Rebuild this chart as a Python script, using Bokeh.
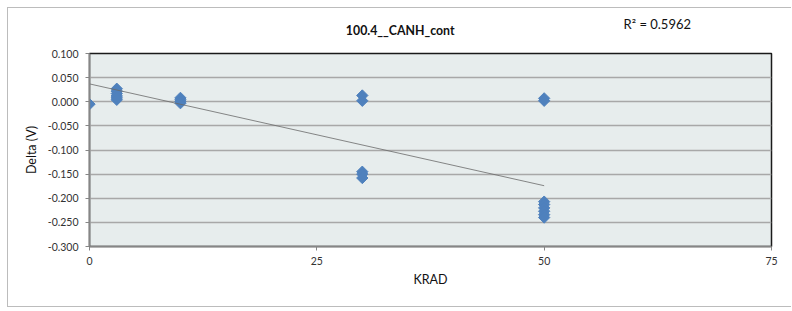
from bokeh.plotting import figure
from bokeh.layouts import column
from bokeh.models import Range1d, FixedTicker, NumeralTickFormatter, Label, ColumnDataSource
from bokeh.embed import file_html
from bokeh.resources import INLINE
import numpy as np

# ---- data ----
krad = [0,
        3, 3, 3, 3, 3, 3,
        10, 10, 10, 10,
        30, 30, 30, 30, 30,
        50, 50, 50, 50, 50, 50, 50, 50]
delta = [-0.005,
         0.027, 0.022, 0.017, 0.012, 0.008, 0.004,
         0.008, 0.004, 0.000, -0.003,
         0.013, 0.002, -0.145, -0.150, -0.158,
         0.007, 0.002, -0.207, -0.213, -0.220, -0.227, -0.234, -0.240]
trend_x = [0, 50]
trend_y = [0.037, -0.174]
r_squared = "0.5962"
title_text = "100.4__CANH_cont"
x_ticks = [0, 25, 50, 75]
y_ticks = [-0.30, -0.25, -0.20, -0.15, -0.10, -0.05, 0.0, 0.05, 0.10]

FONT = "Lato"
BORDER = "1px solid #bcbcbc"

# ---- header strip holding the title and the R² text ----
# (its frame is aligned with the chart frame by the column layout, so its
#  x range is expressed in page pixels of that frame: 89 .. 771)
HDR_H = 40
hdr = figure(width=784, height=HDR_H, output_backend="svg", toolbar_location=None,
             x_range=Range1d(88.7, 771), y_range=Range1d(0, HDR_H),
             x_axis_location=None, y_axis_location=None,
             min_border_left=0, min_border_right=0, min_border_top=0, min_border_bottom=0,
             margin=(7, 0, 0, 7))
hdr.styles = {"border-top": BORDER, "border-left": BORDER}
hdr.grid.visible = False
hdr.outline_line_color = None
hdr.background_fill_color = "white"
hdr.border_fill_color = "white"
hdr.add_layout(Label(x=399.5, y=18, text=title_text, text_font=FONT,
                     text_font_size="12.3px", text_font_style="bold",
                     text_align="center", text_baseline="middle", text_color="#111111"))
hdr.add_layout(Label(x=623, y=24.5, text="R\u00b2 = " + r_squared, text_font=FONT,
                     text_font_size="13px", text_align="left", text_baseline="middle",
                     text_color="#111111"))

# ---- main chart ----
p = figure(width=784, height=260, output_backend="svg", toolbar_location=None,
           x_range=Range1d(0, 75), y_range=Range1d(-0.3, 0.1),
           min_border_left=81, min_border_right=21, min_border_top=6, min_border_bottom=61,
           margin=(0, 0, 0, 7))
p.styles = {"border-left": BORDER, "border-bottom": BORDER}

p.background_fill_color = "#e7eded"
p.border_fill_color = "white"
p.outline_line_color = "#1a1a1a"
p.outline_line_width = 1.5

p.xgrid.visible = False
p.ygrid.grid_line_color = "#a8a8a8"
p.ygrid.grid_line_width = 1.5

p.xaxis.ticker = FixedTicker(ticks=x_ticks)
p.yaxis.ticker = FixedTicker(ticks=y_ticks)
p.yaxis.formatter = NumeralTickFormatter(format="0.000")
p.xaxis.minor_tick_line_color = None
p.yaxis.minor_tick_line_color = None
for ax in (p.xaxis, p.yaxis):
    ax.axis_line_color = "#868686"
    ax.axis_line_width = 1.5
    ax.major_tick_line_color = "#868686"
    ax.major_tick_in = 0
    ax.major_tick_out = 4
    ax.major_label_text_font = FONT
    ax.major_label_text_font_size = "10.5px"
    ax.major_label_text_color = "#333333"
    ax.axis_label_text_font = FONT
    ax.axis_label_text_font_size = "12.5px"
    ax.axis_label_text_font_style = "normal"
    ax.axis_label_text_color = "#111111"
p.xaxis.major_label_standoff = 6
p.yaxis.major_label_standoff = 7
p.xaxis.axis_label = "KRAD"
p.yaxis.axis_label = "Delta (V)"
p.xaxis.axis_label_standoff = 4
p.yaxis.axis_label_standoff = 6

src = ColumnDataSource(dict(x=krad, y=delta))
p.scatter("x", "y", source=src, marker="square", angle=np.pi / 4, size=8,
          fill_color="#4f81bd", line_color="#4f81bd", line_width=1)

p.line(trend_x, trend_y, line_color="#6a6a6a", line_width=0.8)

layout = column(hdr, p, spacing=0)
open("out.html", "w").write(file_html(layout, INLINE))
